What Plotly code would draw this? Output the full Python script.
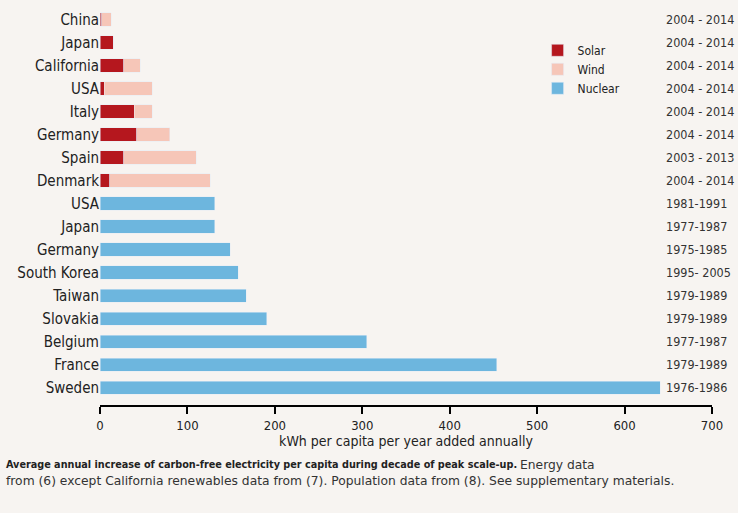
import plotly.graph_objects as go

# Renewables (solar + wind stacked), top block
renew_countries = ['China', 'Japan', 'California', 'USA', 'Italy', 'Germany', 'Spain', 'Denmark']
solar = [2, 15, 27, 5, 39, 42, 27, 11]
wind = [11, 0, 19, 55, 21, 38, 83, 115]
renew_periods = ['2004 - 2014', '2004 - 2014', '2004 - 2014', '2004 - 2014',
                 '2004 - 2014', '2004 - 2014', '2003 - 2013', '2004 - 2014']

# Nuclear, bottom block
nuclear_countries = ['USA', 'Japan', 'Germany', 'South Korea', 'Taiwan', 'Slovakia',
                     'Belgium', 'France', 'Sweden']
nuclear = [131, 131, 149, 158, 167, 191, 305, 454, 641]
nuclear_periods = ['1981-1991', '1977-1987', '1975-1985', '1995- 2005', '1979-1989',
                   '1979-1989', '1977-1987', '1979-1989', '1976-1986']

x_ticks = [0, 100, 200, 300, 400, 500, 600, 700]

bg = '#F7F4F1'
solar_color = '#B5171E'
wind_color = '#F6C6B8'
nuclear_color = '#6DB6DE'
font = 'DejaVu Sans Condensed, Liberation Sans, sans-serif'

labels = renew_countries + nuclear_countries
periods = renew_periods + nuclear_periods
y_renew = list(range(len(renew_countries)))
y_nuc = list(range(len(renew_countries), len(labels)))

fig = go.Figure()
fig.add_trace(go.Bar(y=y_renew, x=solar, name='Solar', orientation='h',
                     marker_color=solar_color, width=0.58))
fig.add_trace(go.Bar(y=y_renew, x=wind, name='Wind', orientation='h',
                     marker_color=wind_color, width=0.58))
fig.add_trace(go.Bar(y=y_nuc, x=nuclear, name='Nuclear', orientation='h',
                     marker_color=nuclear_color, width=0.58))

# period labels on the right
for i, p in enumerate(periods):
    fig.add_annotation(x=645, y=i, text=p, showarrow=False, xanchor='left',
                       xref='x', yref='y', font=dict(size=12.5, color='#333333'))

# caption
fig.add_annotation(
    x=-0.157, xref='paper', y=-0.151, yref='paper', xanchor='left', yanchor='middle',
    showarrow=False, align='left',
    text='<b>Average annual increase of carbon-free electricity per capita during decade of peak scale-up.</b>',
    font=dict(size=10.75, color='#222222'))
fig.add_annotation(
    x=0.683, xref='paper', y=-0.151, yref='paper', xanchor='left', yanchor='middle',
    showarrow=False, align='left', text='Energy data',
    font=dict(size=12.3, color='#333333', family='DejaVu Sans'))
fig.add_annotation(
    x=-0.157, xref='paper', y=-0.191, yref='paper', xanchor='left', yanchor='middle',
    showarrow=False, align='left',
    text='from (6) except California renewables data from (7). Population data from (8). See supplementary materials.',
    font=dict(size=12.3, color='#333333', family='DejaVu Sans'))

fig.update_layout(
    barmode='stack',
    width=738, height=513,
    margin=dict(l=100, r=26, t=8, b=108),
    paper_bgcolor=bg,
    plot_bgcolor=bg,
    font=dict(family=font, size=14, color='#222222'),
    showlegend=True,
    legend=dict(x=0.715, y=0.93, xanchor='left', yanchor='top', traceorder='normal',
                bgcolor='rgba(0,0,0,0)', font=dict(size=12),
                itemwidth=30, tracegroupgap=0),
    bargap=0.4,
)
fig.update_xaxes(range=[0, 700], tickvals=x_ticks, showgrid=False, zeroline=False,
                 showline=True, linecolor='black', linewidth=2,
                 ticks='outside', ticklen=7, tickwidth=2, tickcolor='black',
                 tickfont=dict(size=13), automargin=False,
                 title=dict(text='kWh per capita per year added annually', font=dict(size=14), standoff=0))
fig.update_yaxes(range=[16.75, -0.5], tickvals=list(range(len(labels))), ticktext=labels,
                 showgrid=False, zeroline=False, showline=False, ticks='',
                 tickfont=dict(size=15), automargin=False)

# drop the default page margin so the figure sits at the window's corner
fig.write_html("out.html", config={'displayModeBar': False},
               post_script="document.body.style.margin='0';")
